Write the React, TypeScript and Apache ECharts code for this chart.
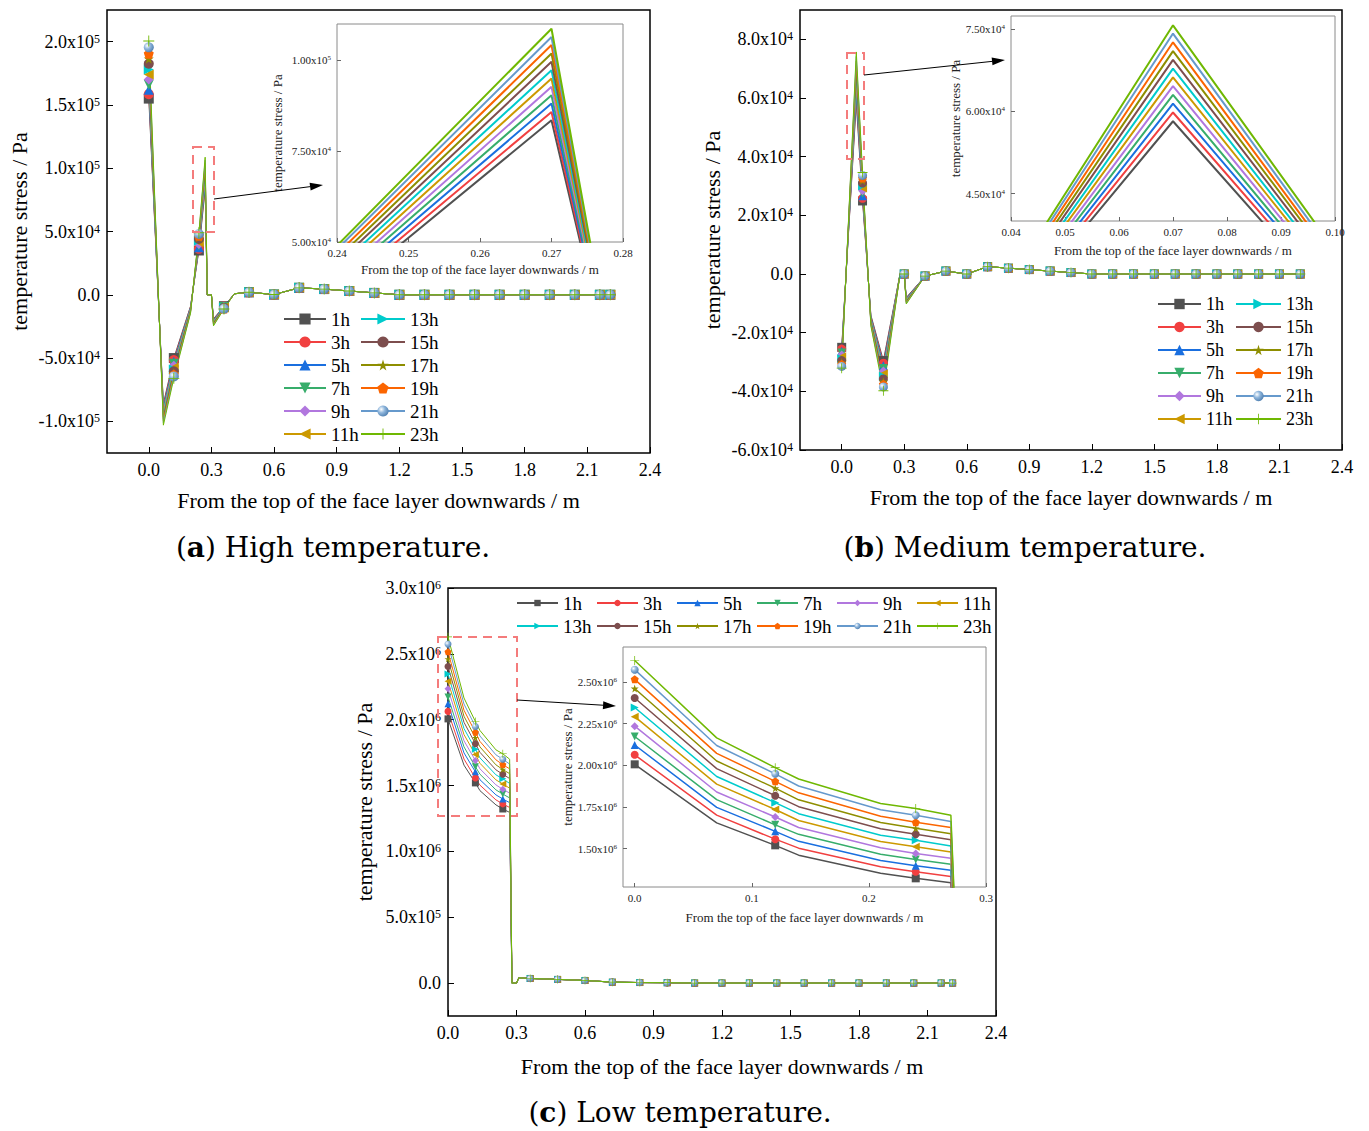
import React, { useEffect, useRef } from 'react';
import * as echarts from 'echarts';

const FONT = 'Liberation Serif';
const HOURS = ['1h', '3h', '5h', '7h', '9h', '11h', '13h', '15h', '17h', '19h', '21h', '23h'];
const COLORS = ['#515151', '#F14040', '#1A6FDF', '#37AD6B', '#B177DE', '#CC9900', '#00CBCC', '#7D4E4E', '#8E8E00', '#FB6501', '#6699CC', '#6FB802'];
const STAR = 'path://M50,0 L61,35 L98,35 L68,57 L79,91 L50,70 L21,91 L32,57 L2,35 L39,35 Z';
const PENTA = 'path://M50,0 L98,36 L80,95 L20,95 L2,36 Z';
const PLUS = 'path://M46,0 L54,0 L54,46 L100,46 L100,54 L54,54 L54,100 L46,100 L46,54 L0,54 L0,46 L46,46 Z';
const SYMBOLS = ['rect', 'circle', 'triangle', 'triangle', 'diamond', 'triangle', 'triangle', 'circle', STAR, PENTA, 'circle', PLUS];
const ROTATES = [0, 0, 0, 180, 0, 90, -90, 0, 0, 0, 0, 0];

// ---------- Panel (a): high temperature ----------
const xA = [0, 0.07, 0.12, 0.2, 0.24, 0.27, 0.28, 0.3, 0.31, 0.36, 0.41, 0.48, 0.6, 0.72, 0.84, 0.96, 1.08, 1.2, 1.32, 1.44, 1.56, 1.68, 1.8, 1.92, 2.04, 2.16, 2.21];
const markA = [0, 0.12, 0.24, 0.36, 0.48, 0.6, 0.72, 0.84, 0.96, 1.08, 1.2, 1.32, 1.44, 1.56, 1.68, 1.8, 1.92, 2.04, 2.16, 2.21];
const headA = [
  [155000, -86000, -50000, -9000, 35000, 83500, 0, 0, -19000, -9000, 800],
  [158500, -87500, -51500, -9500, 36300, 85800, 0, 0, -19500, -9200, 800],
  [162000, -89000, -53000, -10000, 37600, 88100, 0, 0, -20000, -9400, 800],
  [166000, -90500, -54500, -10500, 38900, 90400, 0, 0, -20500, -9600, 800],
  [170000, -92000, -56000, -11000, 40200, 92700, 0, 0, -21000, -9800, 800],
  [174000, -93500, -57500, -11500, 41500, 95000, 0, 0, -21500, -10000, 800],
  [178000, -95000, -59000, -12000, 42800, 97300, 0, 0, -22000, -10200, 800],
  [182500, -96500, -60500, -12500, 44100, 99600, 0, 0, -22500, -10400, 800],
  [186500, -98000, -62000, -13000, 45400, 101900, 0, 0, -23000, -10600, 800],
  [190500, -99500, -63000, -13500, 46700, 104200, 0, 0, -23500, -10800, 800],
  [195500, -101000, -64500, -14000, 48000, 106400, 0, 0, -24000, -11000, 800],
  [200500, -103000, -66000, -14500, 49000, 108700, 0, 0, -24500, -11200, 800],
];
const tailA = [2000, 200, 5500, 4500, 3000, 1500, 0, 0, 0, 0, 0, 0, 0, 0, 0, 0];
const xTicksMain = [0, 0.3, 0.6, 0.9, 1.2, 1.5, 1.8, 2.1, 2.4];
const yTicksA = [-100000, -50000, 0, 50000, 100000, 150000, 200000];
const xTicksInsetA = [0.24, 0.25, 0.26, 0.27, 0.28];
const yTicksInsetA = [50000, 75000, 100000];

// ---------- Panel (b): medium temperature ----------
const xB = [0, 0.07, 0.1, 0.14, 0.2, 0.28, 0.3, 0.31, 0.4, 0.5, 0.6, 0.7, 0.8, 0.9, 1.0, 1.1, 1.2, 1.3, 1.4, 1.5, 1.6, 1.7, 1.8, 1.9, 2.0, 2.1, 2.2];
const markB = [0, 0.1, 0.2, 0.3, 0.4, 0.5, 0.6, 0.7, 0.8, 0.9, 1.0, 1.1, 1.2, 1.3, 1.4, 1.5, 1.6, 1.7, 1.8, 1.9, 2.0, 2.1, 2.2];
const headB = [
  [-25000, 58200, 24900, -14000, -29500, 0, 0, -8000, -700],
  [-25600, 59800, 25800, -14400, -30400, 0, 0, -8200, -700],
  [-26300, 61400, 26700, -14700, -31300, 0, 0, -8400, -700],
  [-26900, 63000, 27500, -15000, -32200, 0, 0, -8600, -700],
  [-27600, 64600, 28400, -15300, -33100, 0, 0, -8800, -700],
  [-28200, 66200, 29300, -15600, -34000, 0, 0, -9000, -700],
  [-28900, 67800, 30100, -16000, -34900, 0, 0, -9200, -700],
  [-29500, 69400, 31000, -16300, -35800, 0, 0, -9400, -700],
  [-30200, 71000, 31900, -16600, -36700, 0, 0, -9600, -700],
  [-30800, 72600, 32700, -17000, -37600, 0, 0, -9800, -700],
  [-31500, 74200, 33600, -17300, -38500, 0, 0, -10000, -700],
  [-32100, 75700, 34600, -17700, -39800, 0, 0, -10200, -700],
];
const tailB = [1000, 0, 2500, 2000, 1500, 1000, 500, 0, 0, 0, 0, 0, 0, 0, 0, 0, 0, 0];
const yTicksB = [-60000, -40000, -20000, 0, 20000, 40000, 60000, 80000];
const xTicksInsetB = [0.04, 0.05, 0.06, 0.07, 0.08, 0.09, 0.1];
const yTicksInsetB = [45000, 60000, 75000];

// ---------- Panel (c): low temperature ----------
const xC = [0, 0.07, 0.12, 0.14, 0.21, 0.24, 0.27, 0.28, 0.3, 0.31, 0.36, 0.48, 0.6, 0.72, 0.84, 0.96, 1.08, 1.2, 1.32, 1.44, 1.56, 1.68, 1.8, 1.92, 2.04, 2.16, 2.21];
const markC = [0, 0.12, 0.24, 0.36, 0.48, 0.6, 0.72, 0.84, 0.96, 1.08, 1.2, 1.32, 1.44, 1.56, 1.68, 1.8, 1.92, 2.04, 2.16, 2.21];
const headC = [
  [2006000, 1655000, 1520000, 1461000, 1353000, 1322000, 1296000, 0, 0, 40000],
  [2063000, 1701000, 1557000, 1503000, 1391000, 1361000, 1333000, 0, 0, 40000],
  [2122000, 1748000, 1604000, 1544000, 1429000, 1398000, 1370000, 0, 0, 40000],
  [2173000, 1794000, 1643000, 1586000, 1467000, 1435000, 1406000, 0, 0, 40000],
  [2235000, 1840000, 1690000, 1627000, 1505000, 1471000, 1443000, 0, 0, 40000],
  [2292000, 1887000, 1735000, 1669000, 1543000, 1512000, 1480000, 0, 0, 40000],
  [2347000, 1933000, 1776000, 1710000, 1581000, 1551000, 1516000, 0, 0, 40000],
  [2404000, 1980000, 1818000, 1752000, 1619000, 1586000, 1553000, 0, 0, 40000],
  [2461000, 2026000, 1863000, 1793000, 1657000, 1622000, 1590000, 0, 0, 40000],
  [2516000, 2072000, 1904000, 1835000, 1695000, 1659000, 1627000, 0, 0, 40000],
  [2574000, 2119000, 1949000, 1876000, 1733000, 1700000, 1663000, 0, 0, 40000],
  [2629000, 2165000, 1986000, 1918000, 1771000, 1741000, 1700000, 0, 0, 40000],
];
const tailC = [35000, 28000, 20000, 7000, 4000, 3000, 0, 0, 0, 0, 0, 0, 0, 0, 0, 0, 0];
const yTicksC = [0, 500000, 1000000, 1500000, 2000000, 2500000, 3000000];
const xTicksInsetC = [0, 0.1, 0.2, 0.3];
const yTicksInsetC = [1500000, 1750000, 2000000, 2250000, 2500000];

const XNAME = 'From the top of the face layer downwards / m';
const YNAME = 'temperature stress / Pa';

function sci(v: number, digits: number) {
  if (Math.abs(v) < 1e-9) return '{b|0.0}';
  const e = Math.floor(Math.log10(Math.abs(v)) + 1e-9);
  const m = v / Math.pow(10, e);
  return `{b|${m.toFixed(digits)}x10}{s|${e}}`;
}

function richFor(fs: number, ss: number, color: string) {
  return {
    b: { fontFamily: FONT, fontSize: fs, color, lineHeight: fs },
    s: { fontFamily: FONT, fontSize: ss, color, verticalAlign: 'top', lineHeight: ss },
  };
}

function xAxisOf(gridIndex: number, min: number, max: number, ticks: number[], digits: number, inset: boolean, nameGap: number) {
  const fs = inset ? 11 : 18;
  const color = inset ? '#222' : '#000';
  return {
    type: 'value', gridIndex, min, max,
    name: XNAME, nameLocation: 'middle', nameGap,
    nameTextStyle: { fontFamily: FONT, fontSize: inset ? 13 : 22, color },
    axisLine: { show: false, onZero: false },
    axisTick: { show: true, inside: true, length: inset ? 4 : 6, customValues: ticks, lineStyle: { color: inset ? '#666' : '#000', width: 1 } },
    axisLabel: { customValues: ticks, formatter: (v: number) => v.toFixed(digits), margin: inset ? 5 : 8, fontFamily: FONT, fontSize: fs, color },
    splitLine: { show: false },
  };
}

function yAxisOf(gridIndex: number, min: number, max: number, ticks: number[], digits: number, inset: boolean, nameGap: number) {
  const fs = inset ? 11 : 18;
  const ss = inset ? 7 : 12;
  const color = inset ? '#222' : '#000';
  return {
    type: 'value', gridIndex, min, max,
    name: YNAME, nameLocation: 'middle', nameGap, nameRotate: 90,
    nameTextStyle: { fontFamily: FONT, fontSize: inset ? 13 : 22, color },
    axisLine: { show: false, onZero: false },
    axisTick: { show: true, inside: true, length: inset ? 4 : 6, customValues: ticks, lineStyle: { color: inset ? '#666' : '#000', width: 1 } },
    axisLabel: { customValues: ticks, formatter: (v: number) => sci(v, digits), margin: inset ? 6 : 7, rich: richFor(fs, ss, color) },
    splitLine: { show: false },
  };
}

function buildSeries(xs: number[], heads: number[][], tail: number[], marks: number[], idx: number, opts: { showSymbol: boolean; size: number; lw: number }) {
  return HOURS.map((name, h) => {
    const vals = heads[h].concat(tail);
    const data = xs.map((x, i) => {
      const isMark = marks.some((m) => Math.abs(m - x) < 1e-9);
      return isMark && opts.showSymbol ? [x, vals[i]] : { value: [x, vals[i]], symbol: 'none' };
    });
    const itemColor = h === 10
      ? new echarts.graphic.RadialGradient(0.35, 0.35, 0.7, [{ offset: 0, color: '#ffffff' }, { offset: 0.45, color: '#8fb6dc' }, { offset: 1, color: '#4f7fb0' }])
      : COLORS[h];
    return {
      type: 'line', name, xAxisIndex: idx, yAxisIndex: idx,
      data, symbol: SYMBOLS[h], symbolRotate: ROTATES[h], symbolSize: h === 11 ? opts.size + 1 : opts.size,
      showSymbol: opts.showSymbol, clip: true, silent: true,
      lineStyle: { color: COLORS[h], width: opts.lw },
      itemStyle: { color: itemColor, borderWidth: 0 },
      emphasis: { disabled: true },
    };
  });
}

function legendOf(names: string[], left: number, top: number, orient: string, fs: number, iw: number, ih: number, gap: number, textWidth?: number) {
  return {
    show: true, orient, left, top, data: names, padding: 0,
    itemWidth: iw, itemHeight: ih, itemGap: gap, selectedMode: false,
    textStyle: textWidth
      ? { fontFamily: FONT, fontSize: fs, color: '#000', lineHeight: 20, width: textWidth }
      : { fontFamily: FONT, fontSize: fs, color: '#000', lineHeight: 20 },
  };
}

function arrow(x1: number, y1: number, x2: number, y2: number) {
  const a = Math.atan2(y2 - y1, x2 - x1);
  const L = 13, W = 4;
  const bx = x2 - L * Math.cos(a), by = y2 - L * Math.sin(a);
  return [
    { type: 'line', shape: { x1, y1, x2: bx, y2: by }, style: { stroke: '#000', lineWidth: 1 }, z: 10 },
    { type: 'polygon', shape: { points: [[x2, y2], [bx - W * Math.sin(a), by + W * Math.cos(a)], [bx + W * Math.sin(a), by - W * Math.cos(a)]] }, style: { fill: '#000' }, z: 10 },
  ];
}

function dashRect(x: number, y: number, width: number, height: number) {
  return { type: 'rect', shape: { x, y, width, height }, style: { fill: 'none', stroke: '#F47C7C', lineWidth: 2, lineDash: [9, 6] }, z: 10 };
}

function caption(cx: number, cy: number, letter: string, rest: string) {
  return {
    type: 'text', x: cx, y: cy, z: 10,
    style: {
      text: `({b|${letter}}) ${rest}`, align: 'center', verticalAlign: 'middle',
      fontFamily: 'DejaVu Serif', fontSize: 28, fill: '#000',
      rich: { b: { fontFamily: 'DejaVu Serif', fontSize: 28, fontWeight: 'bold', fill: '#000' } },
    },
  };
}

export default function App() {
  const ref = useRef<HTMLDivElement>(null);
  useEffect(() => {
    document.body.style.margin = '0';
    if (!ref.current) return;
    const chart = echarts.init(ref.current, null, { renderer: 'svg' });
    const mainGrid = { show: true, borderColor: '#000', borderWidth: 1.5, backgroundColor: 'transparent', containLabel: false };
    const insetGrid = { show: true, borderColor: '#8a8a8a', borderWidth: 1, backgroundColor: '#fff', containLabel: false };
    const option = {
      animation: false,
      backgroundColor: '#fff',
      textStyle: { fontFamily: FONT },
      grid: [
        { ...mainGrid, left: 107, top: 10, width: 543, height: 443 },
        { ...mainGrid, left: 800, top: 10, width: 542, height: 440 },
        { ...mainGrid, left: 448, top: 588, width: 548, height: 428 },
        { ...insetGrid, left: 337, top: 24, width: 286, height: 218 },
        { ...insetGrid, left: 1011, top: 16, width: 324, height: 205 },
        { ...insetGrid, left: 623, top: 647, width: 363, height: 240 },
      ],
      xAxis: [
        xAxisOf(0, -0.2, 2.4, xTicksMain, 1, false, 36),
        xAxisOf(1, -0.2, 2.4, xTicksMain, 1, false, 36),
        xAxisOf(2, 0, 2.4, xTicksMain, 1, false, 39),
        xAxisOf(3, 0.24, 0.28, xTicksInsetA, 2, true, 21),
        xAxisOf(4, 0.04, 0.1, xTicksInsetB, 2, true, 23),
        xAxisOf(5, -0.01, 0.3, xTicksInsetC, 1, true, 24),
      ],
      yAxis: [
        yAxisOf(0, -125000, 225000, yTicksA, 1, false, 77),
        yAxisOf(1, -60000, 90000, yTicksB, 1, false, 77),
        yAxisOf(2, -250000, 3000000, yTicksC, 1, false, 73),
        yAxisOf(3, 50000, 110000, yTicksInsetA, 2, true, 53),
        yAxisOf(4, 40000, 77400, yTicksInsetB, 2, true, 48),
        yAxisOf(5, 1270000, 2710000, yTicksInsetC, 2, true, 48),
      ],
      legend: [
        legendOf(HOURS.slice(0, 6), 283, 309, 'vertical', 19, 42, 14, 3),
        legendOf(HOURS.slice(6), 360, 309, 'vertical', 19, 44, 14, 3),
        legendOf(HOURS.slice(0, 6), 1157, 294, 'vertical', 18, 43, 13, 3),
        legendOf(HOURS.slice(6), 1235, 294, 'vertical', 18, 45, 13, 3),
        legendOf(HOURS.slice(0, 6), 516, 593, 'horizontal', 19, 41, 8, 3, 30),
        legendOf(HOURS.slice(6), 516, 616, 'horizontal', 19, 41, 8, 3, 30),
      ],
      series: [
        ...buildSeries(xA, headA, tailA, markA, 0, { showSymbol: true, size: 10, lw: 1 }),
        ...buildSeries(xB, headB, tailB, markB, 1, { showSymbol: true, size: 9, lw: 1 }),
        ...buildSeries(xC, headC, tailC, markC, 2, { showSymbol: true, size: 7, lw: 1 }),
        ...buildSeries(xA, headA, tailA, markA, 3, { showSymbol: false, size: 0, lw: 2 }),
        ...buildSeries(xB, headB, tailB, markB, 4, { showSymbol: false, size: 0, lw: 2 }),
        ...buildSeries(xC, headC, tailC, markC, 5, { showSymbol: true, size: 8, lw: 1.5 }),
      ],
      graphic: [
        dashRect(193, 147, 21, 85),
        dashRect(847, 53, 17, 106),
        dashRect(438, 637, 79, 179),
        ...arrow(214, 199, 323, 185),
        ...arrow(864, 75, 1005, 60),
        ...arrow(517, 700, 616, 706),
        caption(333, 547, 'a', 'High temperature.'),
        caption(1025, 547, 'b', 'Medium temperature.'),
        caption(680, 1112, 'c', 'Low temperature.'),
      ],
    };
    chart.setOption(option as any);
    return () => chart.dispose();
  }, []);
  return <div ref={ref} style={{ width: 1369, height: 1131 }} />;
}
